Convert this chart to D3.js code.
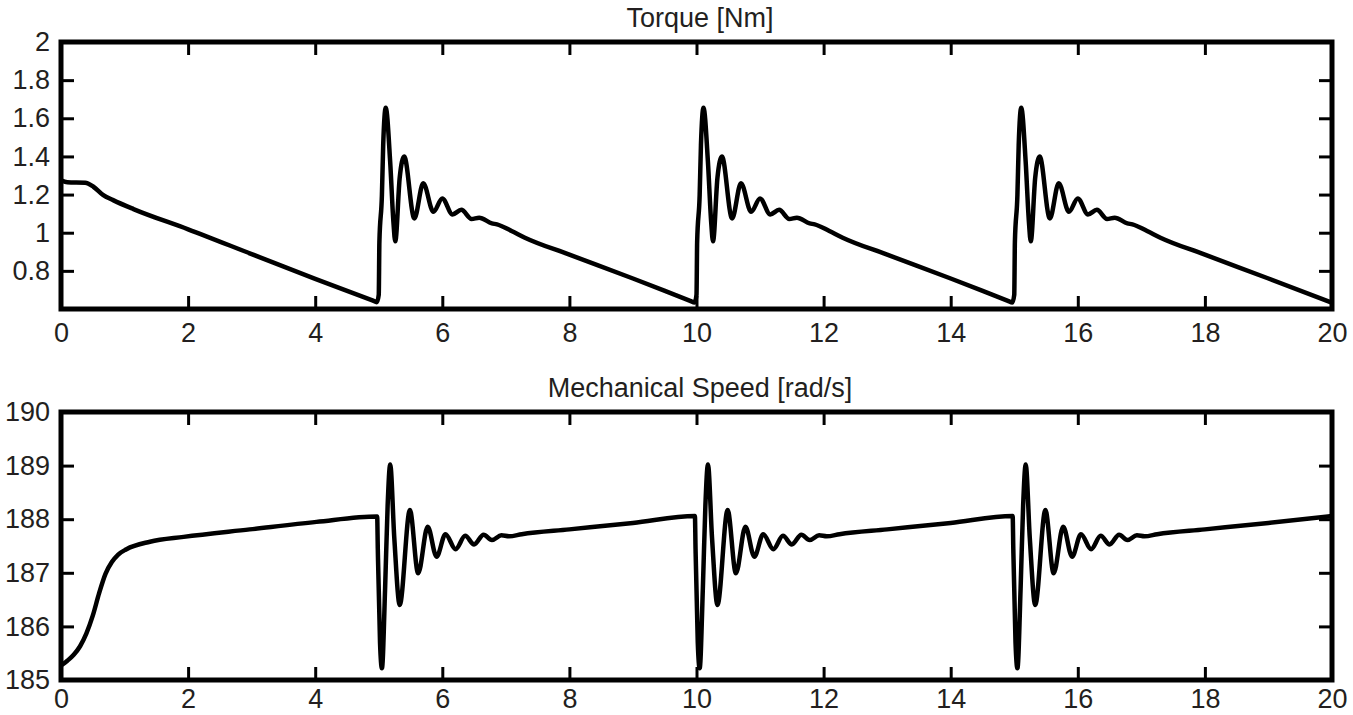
<!DOCTYPE html>
<html>
<head>
<meta charset="utf-8">
<script src="https://cdn.jsdelivr.net/npm/d3@7"></script>
<style>
  body { margin: 0; background: #fff; }
  svg text { font-family: "Liberation Sans", Arial, sans-serif; fill: #231f20; }
</style>
</head>
<body>
<script>
const w = 1353
const h = 715

// tick labels
const xTicks = [0, 2, 4, 6, 8, 10, 12, 14, 16, 18, 20]
const torqueTicks = [0.8, 1, 1.2, 1.4, 1.6, 1.8, 2]
const speedTicks = [185, 186, 187, 188, 189, 190]

// torque [Nm] as [time, value]
const torque = [
  [0, 1.275], [0.1, 1.265], [0.38, 1.262], [0.51, 1.241], [0.66, 1.198], [0.82, 1.171],
  [1.14, 1.124], [2, 1.018], [3, 0.888], [4, 0.758], [4.9, 0.645], [4.97, 0.636],
  [5.0, 0.675], [5.01, 0.95], [5.05, 1.2], [5.07, 1.46], [5.11, 1.655], [5.18, 1.37],
  [5.23, 1.06], [5.26, 0.955], [5.33, 1.29], [5.40, 1.40], [5.56, 1.075], [5.70, 1.26],
  [5.86, 1.11], [6.00, 1.18], [6.16, 1.096], [6.30, 1.12], [6.46, 1.072], [6.58, 1.079],
  [6.78, 1.049], [6.86, 1.044], [7.09, 1.009], [7.30, 0.974], [8, 0.885], [9, 0.76],
  [9.9, 0.643], [9.97, 0.634],
  [10.0, 0.675], [10.01, 0.95], [10.05, 1.2], [10.07, 1.46], [10.11, 1.655], [10.18, 1.37],
  [10.23, 1.06], [10.26, 0.955], [10.33, 1.29], [10.40, 1.40], [10.56, 1.075], [10.70, 1.26],
  [10.86, 1.11], [11.00, 1.18], [11.16, 1.096], [11.30, 1.12], [11.46, 1.072], [11.58, 1.079],
  [11.78, 1.049], [11.86, 1.044], [12.09, 1.009], [12.30, 0.974], [13, 0.885], [14, 0.76],
  [14.9, 0.643], [14.97, 0.634],
  [15.0, 0.675], [15.01, 0.95], [15.05, 1.2], [15.07, 1.46], [15.11, 1.655], [15.18, 1.37],
  [15.23, 1.06], [15.26, 0.955], [15.33, 1.29], [15.40, 1.40], [15.56, 1.075], [15.70, 1.26],
  [15.86, 1.11], [16.00, 1.18], [16.16, 1.096], [16.30, 1.12], [16.46, 1.072], [16.58, 1.079],
  [16.78, 1.049], [16.86, 1.044], [17.09, 1.009], [17.30, 0.974], [18, 0.885], [19, 0.76], [20, 0.633]
]

// mechanical speed [rad/s]
const speed = [
  [0, 185.27], [0.1, 185.36], [0.2, 185.47], [0.3, 185.63], [0.4, 185.87], [0.5, 186.2],
  [0.6, 186.62], [0.7, 186.98], [0.8, 187.2], [0.9, 187.34], [1.03, 187.44],
  [1.40, 187.58], [1.93, 187.67], [2.97, 187.81], [4.02, 187.95], [4.975, 188.05],
  [4.985, 187.45], [5.02, 185.7], [5.05, 185.22], [5.10, 186.71], [5.14, 188.26], [5.18, 189.02],
  [5.245, 187.64], [5.33, 186.40], [5.49, 188.17], [5.62, 186.99], [5.77, 187.86], [5.91, 187.30],
  [6.05, 187.72], [6.21, 187.44], [6.36, 187.69], [6.50, 187.53], [6.65, 187.71], [6.78, 187.61],
  [6.93, 187.70], [7.05, 187.68], [7.25, 187.72], [8.0, 187.81], [9.0, 187.93], [9.975, 188.06],
  [9.985, 187.45], [10.02, 185.7], [10.05, 185.22], [10.10, 186.71], [10.14, 188.26], [10.18, 189.02],
  [10.245, 187.64], [10.33, 186.40], [10.49, 188.17], [10.62, 186.99], [10.77, 187.86], [10.91, 187.30],
  [11.05, 187.72], [11.21, 187.44], [11.36, 187.69], [11.50, 187.53], [11.65, 187.71], [11.78, 187.61],
  [11.93, 187.70], [12.05, 187.68], [12.25, 187.72], [13.0, 187.81], [14.0, 187.93], [14.975, 188.06],
  [14.985, 187.45], [15.02, 185.7], [15.05, 185.22], [15.10, 186.71], [15.14, 188.26], [15.18, 189.02],
  [15.245, 187.64], [15.33, 186.40], [15.49, 188.17], [15.62, 186.99], [15.77, 187.86], [15.91, 187.30],
  [16.05, 187.72], [16.21, 187.44], [16.36, 187.69], [16.50, 187.53], [16.65, 187.71], [16.78, 187.61],
  [16.93, 187.70], [17.05, 187.68], [17.25, 187.72], [18.0, 187.81], [19.0, 187.93], [20, 188.06]
]

const left = 61
const right = 1332
const tickLen = 13

const svg = d3.select('body').append('svg')
  .attr('width', w)
  .attr('height', h)

const xScale = d3.scaleLinear().domain([0, 20]).range([left, right])

function drawPanel (opts) {
  const yScale = d3.scaleLinear().domain(opts.domain).range([opts.bottom, opts.top])
  const g = svg.append('g')

  // title
  g.append('text')
    .attr('x', 700)
    .attr('y', opts.top - 15)
    .attr('text-anchor', 'middle')
    .attr('font-size', '27px')
    .text(opts.title)

  // clip so the trace stays inside the box
  const clipId = 'clip-' + opts.name
  svg.append('clipPath').attr('id', clipId)
    .append('rect')
    .attr('x', left).attr('y', opts.top)
    .attr('width', right - left).attr('height', opts.bottom - opts.top)

  const lineFn = d3.line()
    .x(d => xScale(d[0]))
    .y(d => yScale(d[1]))
    .curve(d3.curveMonotoneX)

  g.append('path')
    .attr('d', lineFn(opts.data))
    .attr('clip-path', 'url(#' + clipId + ')')
    .attr('fill', 'none')
    .attr('stroke', '#000')
    .attr('stroke-width', 4.5)
    .attr('stroke-linejoin', 'round')

  // axes, ticks pointing inward on all four sides
  const xBottom = d3.axisBottom(xScale).tickValues(xTicks)
    .tickSizeInner(-tickLen).tickSizeOuter(0).tickPadding(opts.labelGap)
  const xTop = d3.axisTop(xScale).tickValues(xTicks)
    .tickSizeInner(-tickLen).tickSizeOuter(0).tickFormat('')
  const yLeft = d3.axisLeft(yScale).tickValues(opts.ticks)
    .tickSizeInner(-tickLen).tickSizeOuter(0).tickPadding(11).tickFormat(d => String(d))
  const yRight = d3.axisRight(yScale).tickValues(opts.ticks)
    .tickSizeInner(-tickLen).tickSizeOuter(0).tickFormat('')

  const axes = [
    g.append('g').attr('transform', 'translate(0,' + opts.bottom + ')').call(xBottom),
    g.append('g').attr('transform', 'translate(0,' + opts.top + ')').call(xTop),
    g.append('g').attr('transform', 'translate(' + left + ',0)').call(yLeft),
    g.append('g').attr('transform', 'translate(' + right + ',0)').call(yRight)
  ]
  axes.forEach(a => {
    a.select('.domain').remove()
    a.selectAll('line').attr('stroke', '#000').attr('stroke-width', 3)
    a.selectAll('text').attr('font-size', '27px').attr('fill', '#231f20')
      .style('font-family', '"Liberation Sans", Arial, sans-serif')
  })

  // box
  g.append('rect')
    .attr('x', left).attr('y', opts.top)
    .attr('width', right - left).attr('height', opts.bottom - opts.top)
    .attr('fill', 'none')
    .attr('stroke', '#000')
    .attr('stroke-width', 5)
}

drawPanel({ name: 'torque', title: 'Torque [Nm]', domain: [0.6, 2], ticks: torqueTicks, data: torque, top: 42, bottom: 309, labelGap: 14 })
drawPanel({ name: 'speed', title: 'Mechanical Speed [rad/s]', domain: [185, 190], ticks: speedTicks, data: speed, top: 412, bottom: 680, labelGap: 9 })
</script>
</body>
</html>
